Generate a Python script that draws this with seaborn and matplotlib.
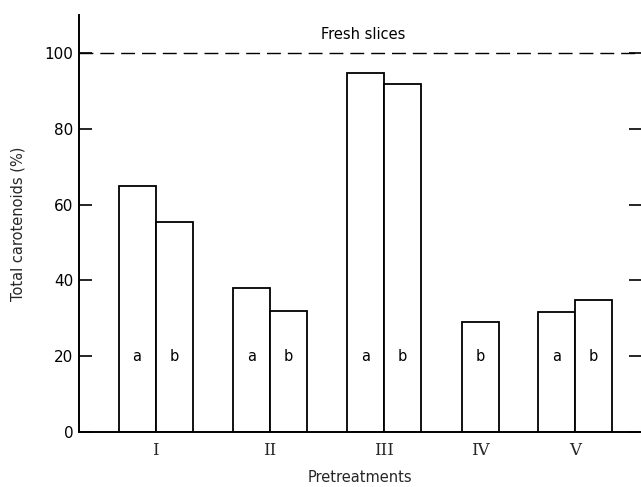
import numpy as np
import pandas as pd
import matplotlib
matplotlib.use("Agg")
import matplotlib.pyplot as plt
import seaborn as sns

# Total carotenoids remaining after each pretreatment (% of fresh slices)
pretreatments = ["I", "II", "III", "IV", "V"]
series_a = [65.0, 38.0, 94.8, np.nan, 31.7]
series_b = [55.5, 31.9, 91.7, 29.1, 34.8]
fresh_level = 100
y_ticks = [0, 20, 40, 60, 80, 100]

# Layout: group centres along the x axis, in bar-width units
group_centers = [2.07, 5.16, 8.24, 10.85, 13.41]

rows = []
for name, c, va, vb in zip(pretreatments, group_centers, series_a, series_b):
    pair = [(s, v) for s, v in (("a", va), ("b", vb)) if not np.isnan(v)]
    offsets = [-0.5, 0.5] if len(pair) == 2 else [0.0]
    for (s, v), off in zip(pair, offsets):
        rows.append({"group": name, "series": s, "pos": c + off, "value": v})
df = pd.DataFrame(rows)

sns.set_theme(style="white")
plt.rcParams["font.family"] = ["DejaVu Sans"]

fig = plt.figure(figsize=(6.41, 4.87), dpi=100)
ax = fig.add_axes([79 / 641, 55 / 487, 1 - 79 / 641, 417 / 487])

sns.barplot(data=df, x="pos", y="value", native_scale=True, width=1.0,
            color="white", edgecolor="black", linewidth=1.3, errorbar=None,
            saturation=1, ax=ax)
for p in ax.patches:
    p.set_facecolor("white")

# Series letters inside each bar
for _, r in df.iterrows():
    ax.text(r["pos"], 20, r["series"], ha="center", va="center",
            fontsize=10.5, color="black")

# Fresh-slice reference level
ax.axhline(fresh_level, color="black", linestyle=(0, (10, 5)), linewidth=1.0)
ax.text(7.68, 104.9, "Fresh slices", ha="center", va="center", fontsize=10.5,
        color="black")

ax.set_xlim(0, 562 / 37)
ax.set_ylim(0, 110)
ax.set_yticks(y_ticks)
ax.set_yticklabels([str(t) for t in y_ticks], fontsize=11)
ax.set_xticks(group_centers)
ax.set_xticklabels(pretreatments, fontsize=12, family="DejaVu Serif")
ax.tick_params(axis="x", length=0, pad=7)
ax.tick_params(axis="y", which="both", direction="in", length=9, width=1.2,
               left=True, right=True, labelleft=True, labelright=False,
               colors="black", pad=4)

for side in ("top", "right"):
    ax.spines[side].set_visible(False)
for side in ("left", "bottom"):
    ax.spines[side].set_color("black")
    ax.spines[side].set_linewidth(1.4)

ax.set_xlabel("Pretreatments", fontsize=10.5, labelpad=8)
ax.set_ylabel("Total carotenoids (%)", fontsize=10.5, labelpad=14)

fig.savefig("out.png", dpi=100)
